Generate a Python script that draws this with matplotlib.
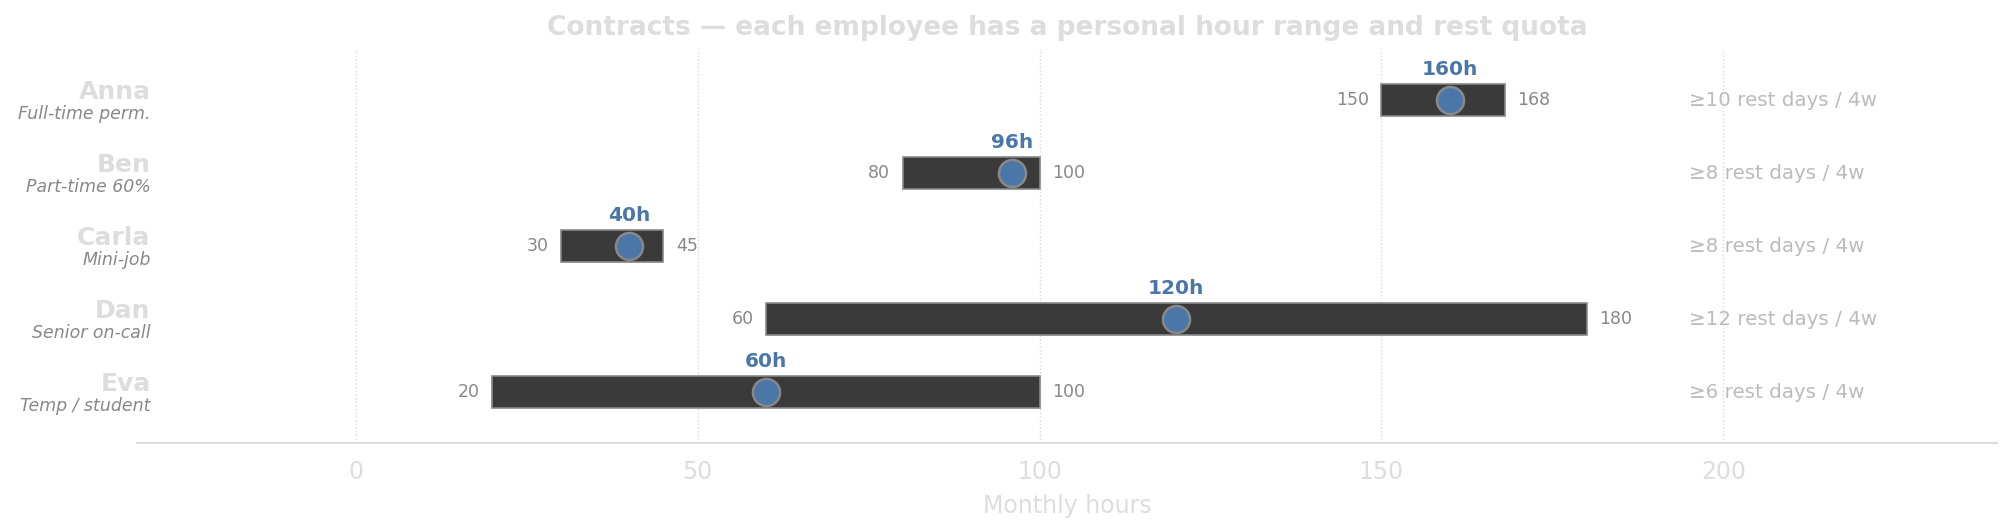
import numpy as np
import matplotlib.pyplot as plt

names = ['Anna', 'Ben', 'Carla', 'Dan', 'Eva']
contracts = ['Full-time perm.', 'Part-time 60%', 'Mini-job', 'Senior on-call', 'Temp / student']
min_hours = [150, 80, 30, 60, 20]
max_hours = [168, 100, 45, 180, 100]
target_hours = [160, 96, 40, 120, 60]
rest_days = [10, 8, 8, 12, 6]

fig = plt.figure(figsize=(20.13, 5.32), dpi=100)
ax = fig.add_axes([0.068, 0.167, 0.924, 0.741])

y = np.arange(len(names))[::-1]
widths = np.array(max_hours) - np.array(min_hours)

ax.barh(y, widths, left=min_hours, height=0.44, color='#3a3a3a',
        edgecolor='#888888', linewidth=1.2, zorder=3)
ax.scatter(target_hours, y, s=380, color='#4a76a8', edgecolor='#888888',
           linewidth=1.8, zorder=4)

for i in range(len(names)):
    ax.annotate(str(min_hours[i]), (min_hours[i], y[i]), xytext=(-9, 0),
                textcoords='offset points', ha='right', va='center',
                fontsize=12.5, color='#888888')
    ax.annotate(str(max_hours[i]), (max_hours[i], y[i]), xytext=(9, 0),
                textcoords='offset points', ha='left', va='center',
                fontsize=12.5, color='#888888')
    ax.annotate(f'{target_hours[i]}h', (target_hours[i], y[i]), xytext=(0, 22),
                textcoords='offset points', ha='center', va='center',
                fontsize=14.5, fontweight='bold', color='#4a76a8')
    ax.text(195, y[i], f'≥{rest_days[i]} rest days / 4w', ha='left', va='center',
            fontsize=14.3, color='#bbbbbb')
    ax.annotate(names[i], (-30, y[i]), xytext=(0, 6), textcoords='offset points',
                ha='right', va='center', fontsize=18, fontweight='bold',
                color='#dddddd', annotation_clip=False)
    ax.annotate(contracts[i], (-30, y[i]), xytext=(0, -10), textcoords='offset points',
                ha='right', va='center', fontsize=12.5, fontstyle='italic',
                color='#888888', annotation_clip=False)

ax.set_xlim(-32, 240)
ax.set_ylim(-0.7, 4.7)
ax.set_xticks([0, 50, 100, 150, 200])
ax.set_yticks([])
ax.tick_params(axis='x', length=0, labelsize=17, labelcolor='#dddddd', pad=12)
ax.grid(axis='x', linestyle=':', color='#d8d8d8', linewidth=1)
ax.set_axisbelow(True)
for s in ['top', 'right', 'left']:
    ax.spines[s].set_visible(False)
ax.spines['bottom'].set_color('#dddddd')
ax.spines['bottom'].set_linewidth(1.5)
ax.set_xlabel('Monthly hours', fontsize=17, color='#dddddd', labelpad=7)
ax.set_title('Contracts — each employee has a personal hour range and rest quota',
             fontsize=19, fontweight='bold', color='#dddddd', pad=10)

fig.savefig('out.png', dpi=100)
